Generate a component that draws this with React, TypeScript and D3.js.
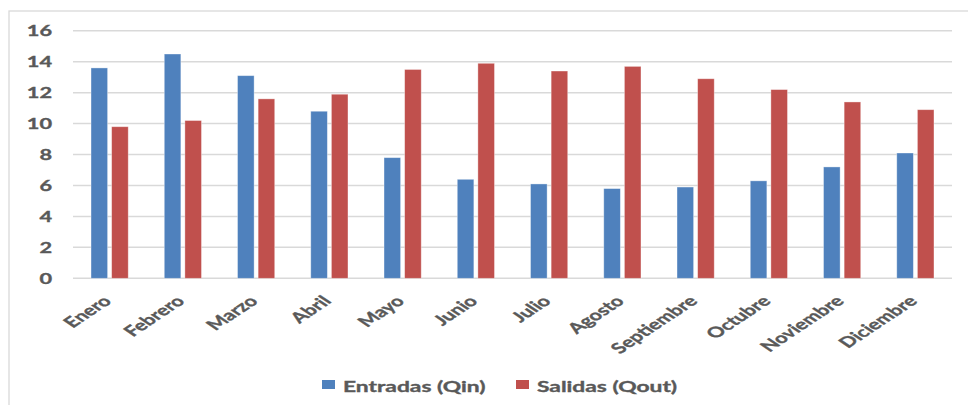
import React from "react";
import * as d3 from "d3";

const months = [
  "Enero", "Febrero", "Marzo", "Abril", "Mayo", "Junio",
  "Julio", "Agosto", "Septiembre", "Octubre", "Noviembre", "Diciembre",
];
const entradas = [13.6, 14.5, 13.1, 10.8, 7.8, 6.4, 6.1, 5.8, 5.9, 6.3, 7.2, 8.1];
const salidas = [9.8, 10.2, 11.6, 11.9, 13.5, 13.9, 13.4, 13.7, 12.9, 12.2, 11.4, 10.9];
const yTicks = [0, 2, 4, 6, 8, 10, 12, 14, 16];
const seriesNames = ["Entradas (Qin)", "Salidas (Qout)"];
const seriesColors = ["#4F81BD", "#C0504D"];

const W = 968;
const H = 405;
const plotLeft = 73;
const plotRight = 952;
const plotTop = 30.8;
const plotBottom = 278.3;

const textColor = "#595959";
const gridColor = "#d9d9d9";
const font = "Lato, 'Open Sans', sans-serif";
// text is drawn horizontally widened, as in the exported chart
const stretch = 1.5;

export default function App() {
  const x = d3.scaleBand<string>().domain(months).range([plotLeft, plotRight]).padding(0);
  const y = d3.scaleLinear().domain([0, 16]).range([plotBottom, plotTop]);
  const bw = x.bandwidth();
  const barW = bw * 0.2265;
  const gap = bw * 0.055;

  const values = [entradas, salidas];
  const textProps = {
    fontFamily: font,
    fontWeight: 700,
    fill: textColor,
    stroke: textColor,
    strokeWidth: 0.35,
  };

  return (
    <svg
      width={W}
      height={H}
      style={{ position: "absolute", left: 0, top: 0, background: "#fff" }}
    >
      <rect x={0} y={0} width={W} height={H} fill="#fff" />
      {/* chart frame */}
      <rect x={9} y={11} width={1200} height={600} fill="none" stroke={gridColor} strokeWidth={1.3} />

      {/* gridlines */}
      {yTicks.map((t) => (
        <line
          key={t}
          x1={plotLeft}
          x2={plotRight}
          y1={y(t)}
          y2={y(t)}
          stroke={gridColor}
          strokeWidth={1.5}
        />
      ))}

      {/* y tick labels */}
      {yTicks.map((t) => (
        <text
          key={t}
          transform={`translate(52,${y(t)}) scale(${stretch},1)`}
          textAnchor="end"
          dominantBaseline="central"
          fontSize={14.5}
          {...textProps}
        >
          {t}
        </text>
      ))}

      {/* bars */}
      {months.map((m, i) => {
        const c = (x(m) as number) + bw / 2;
        return values.map((vals, s) => {
          const bx = s === 0 ? c - gap / 2 - barW : c + gap / 2;
          return (
            <rect
              key={m + s}
              x={bx}
              y={y(vals[i])}
              width={barW}
              height={y(0) - y(vals[i])}
              fill={seriesColors[s]}
              stroke="#ffffff"
              strokeOpacity={0.45}
              strokeWidth={0.8}
            />
          );
        });
      })}

      {/* category labels */}
      {months.map((m) => {
        const c = (x(m) as number) + bw / 2;
        return (
          <text
            key={m}
            transform={`translate(${c + 3},302) scale(${stretch},1) rotate(-45)`}
            textAnchor="end"
            fontSize={14.5}
            {...textProps}
          >
            {m}
          </text>
        );
      })}

      {/* legend */}
      {seriesNames.map((name, s) => {
        const lx = s === 0 ? 322 : 516;
        return (
          <g key={name}>
            <rect x={lx} y={380} width={13} height={9} fill={seriesColors[s]} />
            <text
              transform={`translate(${lx + 21},391.5) scale(${stretch},1)`}
              fontSize={15.2}
              {...textProps}
            >
              {name}
            </text>
          </g>
        );
      })}
    </svg>
  );
}
